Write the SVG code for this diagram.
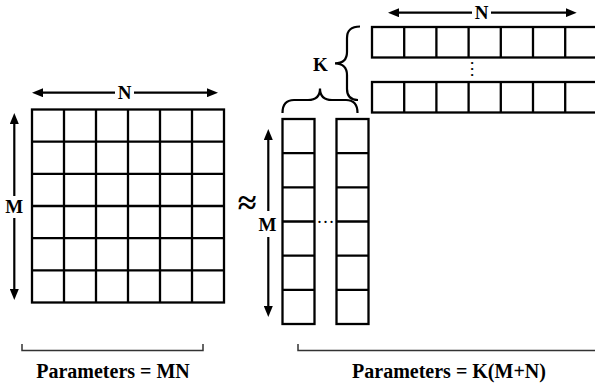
<svg xmlns="http://www.w3.org/2000/svg" width="595" height="385" viewBox="0 0 595 385">
<style>
.g{fill:none;stroke:#000;stroke-width:2.3}
.ln{fill:none;stroke:#000;stroke-width:2.2}
.br{fill:none;stroke:#000;stroke-width:2.2}
.bk{fill:none;stroke:#333;stroke-width:1.5}
text{font-family:'Liberation Serif','DejaVu Serif','Times New Roman',serif;fill:#000;text-anchor:middle}
.lb{font-weight:bold;font-size:19px}
.pm{font-weight:bold;font-size:20px}
.dt{font-size:18px}
.ap{font-weight:bold;font-size:34px}
</style>
<defs>
<marker id="ah" markerUnits="userSpaceOnUse" markerWidth="11" markerHeight="9" refX="2" refY="4.5" orient="auto-start-reverse" viewBox="0 0 11 9">
<path d="M0,0 L11,4.5 L0,9 z" fill="#000"/>
</marker>
</defs>
<rect width="595" height="385" fill="#fff"/>

<g id="matrix">
<rect class="g" x="32" y="109.5" width="192" height="193"/>
<path class="g" d="M64,109.5V302.5M96,109.5V302.5M128,109.5V302.5M160,109.5V302.5M192,109.5V302.5M32,141.7H224M32,173.8H224M32,206H224M32,238.2H224M32,270.3H224"/>
</g>

<g id="col1">
<rect class="g" x="282.5" y="119" width="32" height="205"/>
<path class="g" d="M282.5,153.2H314.5M282.5,187.3H314.5M282.5,221.5H314.5M282.5,255.7H314.5M282.5,289.8H314.5"/>
</g>
<g id="col2">
<rect class="g" x="336.5" y="119" width="32" height="205"/>
<path class="g" d="M336.5,153.2H368.5M336.5,187.3H368.5M336.5,221.5H368.5M336.5,255.7H368.5M336.5,289.8H368.5"/>
</g>

<g id="row1">
<rect class="g" x="372" y="27" width="260" height="30.5"/>
<path class="g" d="M404.2,27V57.5M436.4,27V57.5M468.6,27V57.5M500.8,27V57.5M533,27V57.5M565.2,27V57.5"/>
</g>
<g id="row2">
<rect class="g" x="372" y="82" width="260" height="30.5"/>
<path class="g" d="M404.2,82V112.5M436.4,82V112.5M468.6,82V112.5M500.8,82V112.5M533,82V112.5M565.2,82V112.5"/>
</g>

<g id="connectors">
<path class="ln" d="M41,92.7H115" marker-start="url(#ah)"/>
<path class="ln" d="M134,92.7H209" marker-end="url(#ah)"/>
<path class="ln" d="M14.3,122V196" marker-start="url(#ah)"/>
<path class="ln" d="M14.3,218V291" marker-end="url(#ah)"/>
<path class="ln" d="M268.3,138V211" marker-start="url(#ah)"/>
<path class="ln" d="M268.3,237V308" marker-end="url(#ah)"/>
<path class="ln" d="M397,12.7H472" marker-start="url(#ah)"/>
<path class="ln" d="M491,12.7H567.7" marker-end="url(#ah)"/>
<path class="br" d="M282.5,113C282.5,104 286,100 294,100L308,100C316,100 320,96 320,88.5C320,96 324,100 332,100L346,100C354,100 357.5,104 357.5,113"/>
<path class="br" d="M360,26.5C351,26.5 347,30 347,38L347,52C347,59 343,63.3 335,63.3C343,63.3 347,68 347,75L347,89C347,96 351,100 358,100"/>
<path class="bk" d="M22,344V350.5H203V344"/>
<path class="bk" d="M298,344V350.5H600"/>
</g>

<g id="labels">
<text class="lb" x="124.5" y="99">N</text>
<text class="lb" x="14.3" y="213">M</text>
<text class="lb" x="267.5" y="230.5">M</text>
<text class="lb" x="481.5" y="19">N</text>
<text class="lb" x="320.5" y="70.5">K</text>
<text class="ap" x="247" y="214">≈</text>
<text class="dt" x="325.5" y="223">…</text>
<text class="dt" transform="translate(470.7,69) rotate(90)" x="0" y="0">…</text>
<text class="pm" x="113" y="378">Parameters = MN</text>
<text class="pm" x="449" y="378">Parameters = K(M+N)</text>
</g>
</svg>
